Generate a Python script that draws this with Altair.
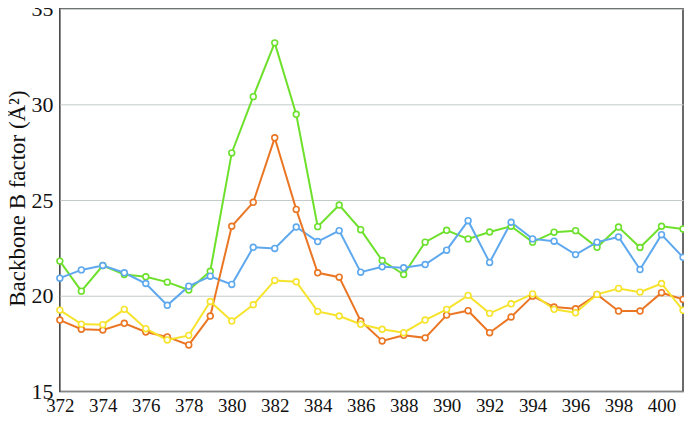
import altair as alt
import pandas as pd

residues = list(range(372, 402))

green = [21.81, 20.24, 21.58, 21.11, 20.99, 20.71, 20.30, 21.28, 27.46, 30.40,
         33.21, 29.48, 23.61, 24.74, 23.45, 21.84, 21.11, 22.80, 23.42, 22.97,
         23.33, 23.63, 22.80, 23.32, 23.40, 22.53, 23.59, 22.52, 23.63, 23.49]
blue = [20.92, 21.35, 21.58, 21.20, 20.64, 19.50, 20.50, 21.02, 20.59, 22.53,
        22.47, 23.59, 22.83, 23.40, 21.23, 21.51, 21.46, 21.63, 22.38, 23.92,
        21.74, 23.84, 22.97, 22.85, 22.15, 22.80, 23.07, 21.37, 23.19, 22.01]
orange = [18.73, 18.25, 18.21, 18.56, 18.11, 17.85, 17.43, 18.94, 23.63, 24.88,
          28.25, 24.51, 21.20, 20.97, 18.68, 17.64, 17.93, 17.80, 18.99, 19.22,
          18.07, 18.89, 19.98, 19.41, 19.32, 20.07, 19.20, 19.20, 20.16, 19.81]
yellow = [19.25, 18.52, 18.49, 19.29, 18.28, 17.69, 17.93, 19.70, 18.68, 19.53,
          20.80, 20.73, 19.18, 18.94, 18.51, 18.25, 18.07, 18.73, 19.29, 20.02,
          19.08, 19.58, 20.10, 19.29, 19.11, 20.07, 20.38, 20.19, 20.64, 19.24]

series_names = ["green", "blue", "orange", "yellow"]
series_colors = ["#6DE02C", "#5EA8EE", "#EA7624", "#F6E32C"]
x_ticks = list(range(372, 401, 2))
y_ticks = [15, 20, 25, 30, 35]

rows = []
for name, vals in zip(series_names, [green, blue, orange, yellow]):
    for r, v in zip(residues, vals):
        rows.append({"residue": r, "B": v, "series": name, "order": series_names.index(name)})
df = pd.DataFrame(rows)

SERIF = "Liberation Serif, Times New Roman, Times, serif"

chart = alt.Chart(df).mark_line(
    strokeWidth=2,
    point=alt.OverlayMarkDef(filled=False, fill="white", size=34, strokeWidth=1.6),
).encode(
    x=alt.X("residue:Q",
            scale=alt.Scale(domain=[372, 401], nice=False, zero=False),
            axis=alt.Axis(values=x_ticks, title=None, grid=False, ticks=False, domain=False,
                          labelFont=SERIF, labelFontSize=19, labelColor="#111",
                          labelPadding=5, format="d", labelFlush=False)),
    y=alt.Y("B:Q",
            scale=alt.Scale(domain=[15, 35], nice=False, zero=False),
            axis=alt.Axis(values=y_ticks, title="Backbone B factor (Å²)", grid=True,
                          gridColor="#C3CACA", gridWidth=1, ticks=False, domain=False,
                          labelFont=SERIF, labelFontSize=22, labelColor="#111",
                          labelPadding=7, labelFlush=False,
                          titleFont=SERIF, titleFontSize=23, titleFontWeight="normal",
                          titleColor="#111", titleX=-35, titleY=190, titleAlign="center",
                          titleBaseline="alphabetic", titleAngle=270)),
    color=alt.Color("series:N", scale=alt.Scale(domain=series_names, range=series_colors), legend=None),
    order=alt.Order("order:Q"),
    detail="series:N",
).properties(
    width=625,
    height=384,
    autosize=alt.AutoSizeParams(type="none"),
    padding={"left": 52, "top": 0, "right": 1, "bottom": 21},
    background="white",
).configure_view(
    stroke="#3A3A3A", strokeWidth=1.5
)

chart.save("out.html", embed_options={"renderer": "svg", "actions": False})
